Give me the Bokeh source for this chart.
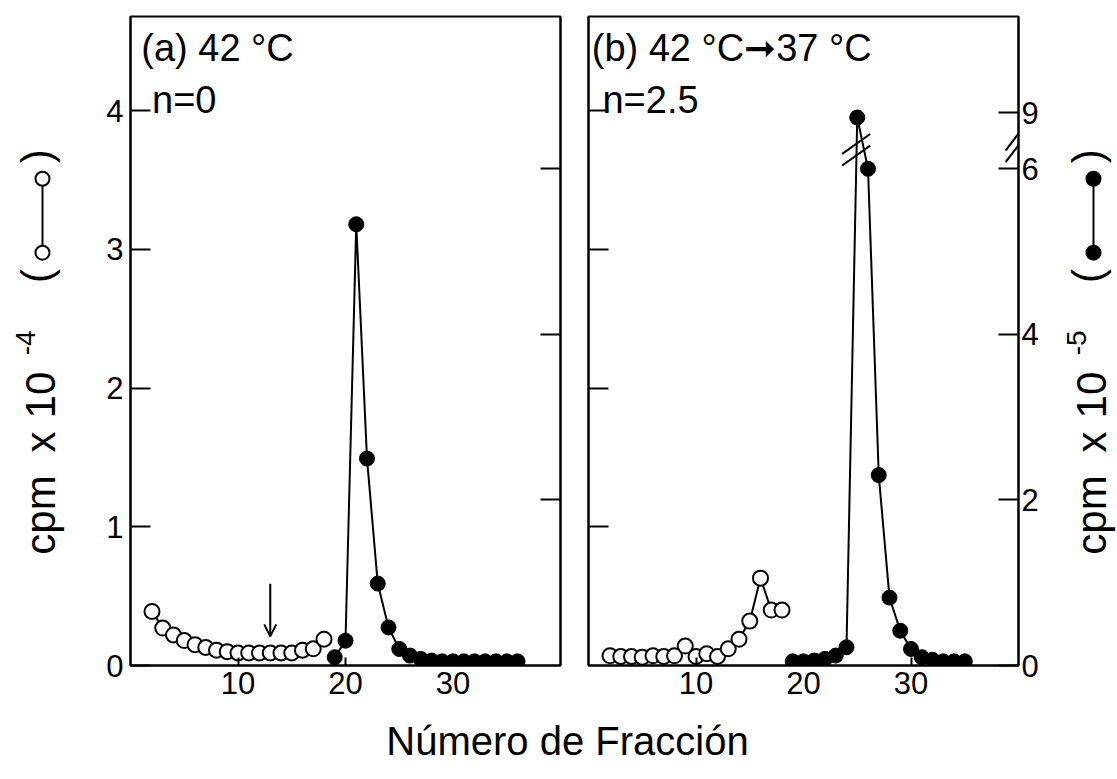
import numpy as np
from bokeh.plotting import figure
from bokeh.layouts import row, column
from bokeh.models import Range1d, LinearAxis, FixedTicker, CustomJSTickFormatter, Arrow, OpenHead
from bokeh.embed import file_html
from bokeh.resources import INLINE
from bokeh.core.properties import value

FONT = "Liberation Sans"

# ---------------- data ----------------
# Panel (a) 42 °C, n = 0
a_open_frac = list(range(2, 19))
a_open_cpm4 = [0.39, 0.27, 0.22, 0.18, 0.15, 0.13, 0.11, 0.10, 0.09,
               0.09, 0.09, 0.09, 0.09, 0.09, 0.11, 0.12, 0.19]
a_fill_frac = list(range(19, 37))
a_fill_cpm5 = [0.10, 0.30, 5.33, 2.50, 0.99, 0.46, 0.20, 0.12, 0.08,
               0.06, 0.05, 0.05, 0.05, 0.05, 0.05, 0.05, 0.05, 0.05]
a_arrow_frac = 13

# Panel (b) 42 °C -> 37 °C, n = 2.5
b_open_frac = list(range(2, 19))
b_open_cpm4 = [0.07, 0.065, 0.065, 0.06, 0.07, 0.065, 0.07, 0.14, 0.065,
               0.085, 0.065, 0.12, 0.19, 0.32, 0.63, 0.40, 0.40]
b_fill_frac = list(range(19, 36))
b_fill_cpm5 = [0.05, 0.05, 0.06, 0.08, 0.12, 0.22, 8.94, 6.00, 2.30,
               0.82, 0.42, 0.20, 0.10, 0.07, 0.05, 0.05, 0.05]

x_ticks = [10, 20, 30]
left_ticks = [0, 1, 2, 3, 4]
right_ticks = [0, 2, 4, 6, 9]

# axis scales
X_MAX = 40
LEFT_MAX = 4.68          # cpm x 10^-4
RIGHT_MAX = 7.84         # cpm x 10^-5 (compressed above the break)
BREAK_LO = 6             # last value below the axis break
BREAK_HI = 9             # first value above the axis break
BREAK_POS = 6.68         # where 9 is drawn on the right scale


def r_disp(v):
    return v if v <= BREAK_LO + 0.5 else v - BREAK_HI + BREAK_POS


right_tick_pos = [r_disp(t) for t in right_ticks]

FW, FH = 430, 649
TOP, BOTTOM = 16, 55

BLANK = CustomJSTickFormatter(code="return '';")


def style_axis(ax, ticks, show_labels, tick_in):
    ax.ticker = FixedTicker(ticks=ticks)
    ax.major_tick_in = tick_in
    ax.major_tick_out = 0
    ax.minor_tick_line_color = None
    ax.axis_line_width = 2
    ax.major_tick_line_width = 2
    ax.major_label_text_font = FONT
    ax.major_label_text_font_size = "31px"
    ax.major_label_text_color = "black"
    if not show_labels:
        ax.formatter = BLANK
        ax.major_label_standoff = 0


def make_panel(bl, br, left_labels, right_labels):
    p = figure(frame_width=FW, frame_height=FH,
               x_range=Range1d(0, X_MAX), y_range=Range1d(0, LEFT_MAX),
               x_axis_location=None, y_axis_location=None,
               min_border_left=bl, min_border_right=br,
               min_border_top=TOP, min_border_bottom=BOTTOM,
               output_backend="svg", toolbar_location=None,
               background_fill_color="white", border_fill_color="white")
    p.extra_y_ranges = {"r": Range1d(0, RIGHT_MAX)}
    p.xgrid.visible = False
    p.ygrid.visible = False
    p.outline_line_color = "black"
    p.outline_line_width = 2

    xa = LinearAxis()
    style_axis(xa, x_ticks, True, 8)
    xa.major_label_standoff = 6
    p.add_layout(xa, "below")

    la = LinearAxis()
    style_axis(la, left_ticks if left_labels else [1, 2, 3, 4], left_labels, 20)
    if left_labels:
        la.major_label_standoff = 7
    p.add_layout(la, "left")

    ra = LinearAxis(y_range_name="r")
    if right_labels:
        style_axis(ra, right_tick_pos, True, 20)
        ra.major_label_standoff = 3
        ra.formatter = CustomJSTickFormatter(code="""
            if (tick > 6.3) { return '9'; }
            return String(Math.round(tick));
        """)
    else:
        style_axis(ra, [2, 4, 6], False, 20)
    p.add_layout(ra, "right")
    return p


def draw_series(p, of, ov, ff, fv):
    p.line(of, ov, line_color="black", line_width=2)
    p.scatter(of, ov, size=15, marker="circle", fill_color="white",
              line_color="black", line_width=2)
    fd = [r_disp(v) for v in fv]
    p.line(ff, fd, line_color="black", line_width=2, y_range_name="r")
    p.scatter(ff, fd, size=15, marker="circle", fill_color="black",
              line_color="black", line_width=1, y_range_name="r")


# ---------- panel (a) ----------
pa = make_panel(60, 14, True, False)
draw_series(pa, a_open_frac, a_open_cpm4, a_fill_frac, a_fill_cpm5)
pa.add_layout(Arrow(end=OpenHead(size=12, line_width=2, line_color="black"),
                    x_start=a_arrow_frac, y_start=0.59, x_end=a_arrow_frac, y_end=0.21,
                    line_width=2, line_color="black"))
pa.text(x=[1.0], y=[4.45], text=["(a) 42 °C"], text_font=value(FONT),
        text_font_size="38px", text_baseline="middle", text_align="left")
pa.text(x=[2.0], y=[4.08], text=["n=0"], text_font=value(FONT),
        text_font_size="38px", text_baseline="middle", text_align="left")

# ---------- panel (b) ----------
pb = make_panel(14, 40, False, True)
draw_series(pb, b_open_frac, b_open_cpm4, b_fill_frac, b_fill_cpm5)
pb.text(x=[0.3], y=[4.45], text=["(b) 42 °C➞37 °C"], text_font=value(FONT),
        text_font_size="38px", text_baseline="middle", text_align="left")
pb.text(x=[1.3], y=[4.08], text=["n=2.5"], text_font=value(FONT),
        text_font_size="38px", text_baseline="middle", text_align="left")
# break marks (data line and right axis)
pb.segment(x0=[23.6, 23.6], y0=[6.04, 6.18], x1=[26.2, 26.2], y1=[6.28, 6.42],
           line_color="black", line_width=2, y_range_name="r")
pb.segment(x0=[38.8, 38.8], y0=[6.08, 6.22], x1=[40.2, 40.2], y1=[6.32, 6.46],
           line_color="black", line_width=2, y_range_name="r")

H = TOP + FH + BOTTOM


def aux(w, h):
    f = figure(width=w, height=h, x_range=Range1d(0, w), y_range=Range1d(h, 0),
               x_axis_location=None, y_axis_location=None, min_border=0,
               output_backend="svg", toolbar_location=None,
               background_fill_color="white", border_fill_color="white")
    f.outline_line_color = None
    f.xgrid.visible = False
    f.ygrid.visible = False
    return f


def y_label(f, xc, exp, filled):
    ang = np.pi / 2
    kw = dict(text_font=value(FONT), text_baseline="middle", text_align="center", angle=ang)
    f.text(x=[xc, xc, xc], y=[553, 472, 420], text=["cpm", "x", "10"],
           text_font_size="42px", **kw)
    f.text(x=[xc - 15], y=[362], text=[exp], text_font_size="28px", **kw)
    f.text(x=[xc - 4, xc - 4], y=[288, 155], text=["(", ")"], text_font_size="42px", **kw)
    f.line([xc + 2, xc + 2], [262, 180], line_color="black", line_width=2)
    f.scatter([xc + 2, xc + 2], [262, 180], size=14, marker="circle",
              fill_color="black" if filled else "white", line_color="black", line_width=2)


L = aux(70, H)
y_label(L, 40, "-4", False)
R = aux(59, H)
y_label(R, 33, "-5", True)

X = aux(1117, 779 - H)
X.text(x=[567], y=[20], text=["Número de Fracción"], text_font=value(FONT),
       text_font_size="40px", text_baseline="middle", text_align="center")

layout = column(row(L, pa, pb, R), X)
open("out.html", "w").write(file_html(layout, INLINE))
